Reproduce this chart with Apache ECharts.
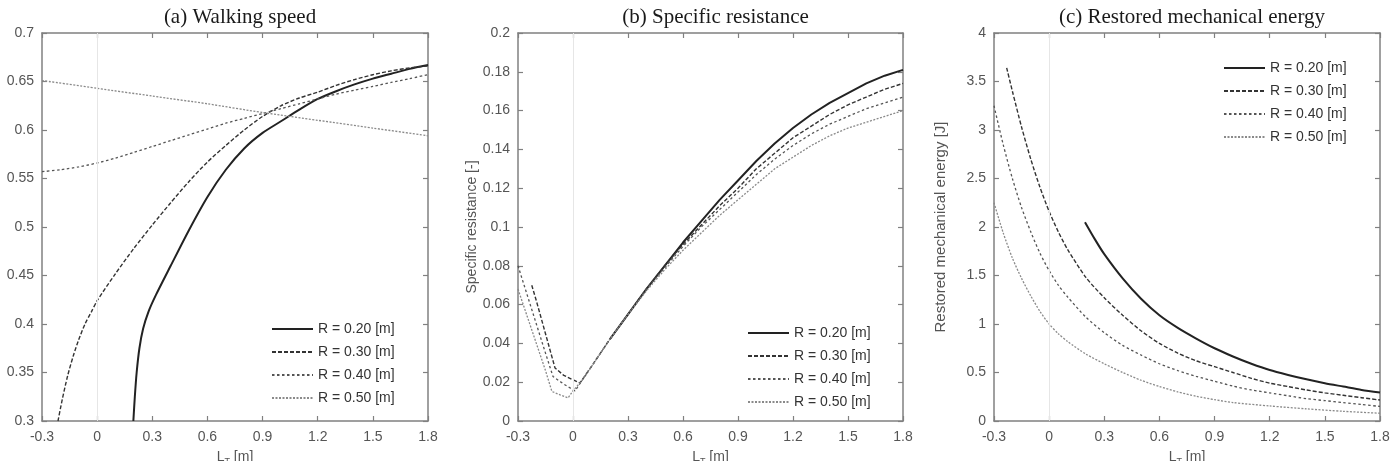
<!DOCTYPE html>
<html>
<head>
<meta charset="utf-8">
<script src="https://cdn.jsdelivr.net/npm/echarts@6/dist/echarts.min.js"></script>
<style>
html,body{margin:0;padding:0;background:#fff;}
#chart{width:1395px;height:461px;}
</style>
</head>
<body>
<div id="chart"></div>
<script>
// ---------- data ----------
const panelTitles = ['(a) Walking speed', '(b) Specific resistance', '(c) Restored mechanical energy'];
const seriesNames = ['R = 0.20 [m]', 'R = 0.30 [m]', 'R = 0.40 [m]', 'R = 0.50 [m]'];
const yAxisNames = ['', 'Specific resistance [-]', 'Restored mechanical energy [J]'];

// (a) walking speed  [L_T, v]
const speedR20 = [[0.197,0.300],[0.205,0.325],[0.215,0.350],[0.23,0.375],[0.25,0.395],[0.28,0.413],[0.32,0.430],[0.4,0.460],[0.5,0.497],[0.6,0.531],[0.7,0.559],[0.8,0.581],[0.9,0.597],[1.0,0.609],[1.1,0.621],[1.2,0.632],[1.3,0.640],[1.4,0.647],[1.5,0.653],[1.6,0.658],[1.7,0.663],[1.8,0.667]];
const speedR30 = [[-0.213,0.300],[-0.19,0.322],[-0.16,0.347],[-0.13,0.367],[-0.1,0.384],[-0.066,0.400],[-0.03,0.413],[0,0.424],[0.1,0.452],[0.2,0.478],[0.3,0.502],[0.4,0.525],[0.5,0.547],[0.6,0.567],[0.7,0.584],[0.8,0.600],[0.9,0.614],[1.0,0.625],[1.1,0.633],[1.2,0.639],[1.3,0.646],[1.4,0.652],[1.5,0.657],[1.6,0.661],[1.7,0.664],[1.8,0.666]];
const speedR40 = [[-0.3,0.557],[-0.2,0.559],[-0.1,0.562],[0,0.566],[0.1,0.571],[0.2,0.577],[0.3,0.583],[0.4,0.589],[0.5,0.595],[0.6,0.601],[0.7,0.607],[0.8,0.612],[0.9,0.617],[1.0,0.622],[1.1,0.627],[1.2,0.632],[1.3,0.637],[1.4,0.641],[1.5,0.645],[1.6,0.649],[1.7,0.653],[1.8,0.657]];
const speedR50 = [[-0.3,0.651],[0,0.643],[0.3,0.635],[0.6,0.627],[0.9,0.618],[1.2,0.610],[1.5,0.602],[1.8,0.594]];

// (b) specific resistance [L_T, value]
const resR20 = [[0.2,0.042],[0.3,0.055],[0.4,0.068],[0.5,0.080],[0.6,0.092],[0.7,0.103],[0.8,0.114],[0.9,0.124],[1.0,0.134],[1.1,0.143],[1.2,0.151],[1.3,0.158],[1.4,0.164],[1.5,0.169],[1.6,0.174],[1.7,0.178],[1.8,0.181]];
const resR30 = [[-0.225,0.070],[-0.2,0.062],[-0.15,0.045],[-0.098,0.0273],[-0.05,0.0235],[0,0.0212],[0.038,0.0196],[0.1,0.028],[0.2,0.042],[0.3,0.055],[0.4,0.068],[0.5,0.080],[0.6,0.091],[0.7,0.101],[0.8,0.111],[0.9,0.120],[1.0,0.130],[1.1,0.138],[1.2,0.146],[1.3,0.152],[1.4,0.158],[1.5,0.163],[1.6,0.167],[1.7,0.171],[1.8,0.174]];
const resR40 = [[-0.3,0.080],[-0.25,0.065],[-0.2,0.050],[-0.15,0.035],[-0.109,0.0229],[-0.05,0.019],[0.011,0.0155],[0.05,0.021],[0.1,0.028],[0.2,0.042],[0.3,0.055],[0.4,0.068],[0.5,0.079],[0.6,0.090],[0.7,0.100],[0.8,0.109],[0.9,0.118],[1.0,0.127],[1.1,0.135],[1.2,0.142],[1.3,0.148],[1.4,0.153],[1.5,0.157],[1.6,0.161],[1.7,0.164],[1.8,0.167]];
const resR50 = [[-0.3,0.068],[-0.25,0.054],[-0.2,0.040],[-0.15,0.026],[-0.115,0.0152],[-0.07,0.0135],[-0.027,0.0119],[0,0.0155],[0.05,0.021],[0.1,0.028],[0.2,0.042],[0.3,0.055],[0.4,0.067],[0.5,0.078],[0.6,0.088],[0.7,0.097],[0.8,0.106],[0.9,0.114],[1.0,0.122],[1.1,0.130],[1.2,0.136],[1.3,0.142],[1.4,0.147],[1.5,0.151],[1.6,0.154],[1.7,0.157],[1.8,0.160]];

// (c) restored mechanical energy [L_T, J]
const energyR20 = [[0.195,2.05],[0.25,1.87],[0.3,1.72],[0.4,1.47],[0.5,1.26],[0.6,1.09],[0.7,0.96],[0.8,0.85],[0.9,0.75],[1.0,0.665],[1.1,0.59],[1.2,0.525],[1.3,0.475],[1.4,0.43],[1.5,0.39],[1.6,0.355],[1.7,0.32],[1.8,0.293]];
const energyR30 = [[-0.231,3.64],[-0.2,3.40],[-0.15,3.03],[-0.1,2.70],[-0.05,2.41],[0,2.16],[0.05,1.95],[0.1,1.77],[0.2,1.48],[0.3,1.27],[0.4,1.09],[0.5,0.93],[0.6,0.80],[0.7,0.70],[0.8,0.62],[0.9,0.56],[1.0,0.50],[1.1,0.44],[1.2,0.39],[1.3,0.355],[1.4,0.32],[1.5,0.29],[1.6,0.265],[1.7,0.24],[1.8,0.216]];
const energyR40 = [[-0.3,3.25],[-0.25,2.85],[-0.2,2.50],[-0.15,2.20],[-0.1,1.95],[-0.05,1.73],[0,1.55],[0.05,1.40],[0.1,1.28],[0.2,1.07],[0.3,0.91],[0.4,0.78],[0.5,0.68],[0.6,0.59],[0.7,0.52],[0.8,0.46],[0.9,0.41],[1.0,0.36],[1.1,0.32],[1.2,0.29],[1.3,0.26],[1.4,0.23],[1.5,0.21],[1.6,0.19],[1.7,0.17],[1.8,0.15]];
const energyR50 = [[-0.3,2.25],[-0.25,1.94],[-0.2,1.68],[-0.15,1.47],[-0.1,1.29],[-0.05,1.13],[0,1.00],[0.05,0.90],[0.1,0.82],[0.2,0.69],[0.3,0.59],[0.4,0.50],[0.5,0.42],[0.6,0.355],[0.7,0.30],[0.8,0.255],[0.9,0.22],[1.0,0.19],[1.2,0.155],[1.4,0.125],[1.6,0.10],[1.8,0.08]];

const xRange = {min: -0.3, max: 1.8, interval: 0.3};
const yRanges = [{min: 0.3, max: 0.7, interval: 0.05}, {min: 0, max: 0.2, interval: 0.02}, {min: 0, max: 4, interval: 0.5}];

// ---------- layout / styles ----------
const grids = [
  {left: 42, top: 33, width: 386, height: 388},
  {left: 518, top: 33, width: 385, height: 388},
  {left: 994, top: 33, width: 386, height: 388}
];
const legendPos = [{left: 266, top: 317}, {left: 742, top: 321}, {left: 1218, top: 56}];
const yNameGap = [0, 17, 46];
const yNameSize = [12, 14, 15];
const panelSmooth = [0.25, false, 0.25];
const lineStyles = [
  {color: '#222', width: 2, type: 'solid'},
  {color: '#333', width: 1.4, type: [4, 2]},
  {color: '#555', width: 1.3, type: [2.5, 2.5]},
  {color: '#8a8a8a', width: 1.3, type: [2, 1.5]}
];
const panelData = [
  [speedR20, speedR30, speedR40, speedR50],
  [resR20, resR30, resR40, resR50],
  [energyR20, energyR30, energyR40, energyR50]
];

const axisColor = '#808080';
const font = 'Liberation Sans, Arial, sans-serif';
const labelStyle = {color: '#555', fontSize: 14, fontFamily: font};

const option = {
  animation: false,
  backgroundColor: '#fff',
  title: [], grid: [], xAxis: [], yAxis: [], legend: [], series: []
};

panelTitles.forEach((t, i) => {
  const g = grids[i];
  option.title.push({
    text: t, left: g.left + g.width / 2, top: 2, textAlign: 'center',
    textStyle: {fontFamily: 'Liberation Serif, Times New Roman, serif', fontSize: 21, fontWeight: 'normal', color: '#1a1a1a'}
  });
  option.grid.push(Object.assign({containLabel: false, outerBoundsMode: 'none'}, g));
  const tickCommon = {inside: true, length: 5, lineStyle: {color: axisColor, width: 1.2}};
  const lineCommon = {onZero: false, lineStyle: {color: axisColor, width: 1.5}};
  // bottom x
  option.xAxis.push({
    type: 'value', gridIndex: i, position: 'bottom', min: xRange.min, max: xRange.max, interval: xRange.interval,
    axisLine: lineCommon, axisTick: tickCommon, splitLine: {show: false},
    axisLabel: Object.assign({margin: 9}, labelStyle),
    name: '{a|L}{b|T} [m]', nameLocation: 'middle', nameGap: 28,
    nameTextStyle: {color: '#555', fontSize: 14, fontFamily: font,
      rich: {a: {fontSize: 14, color: '#555', fontFamily: font}, b: {fontSize: 9, color: '#555', fontFamily: font, padding: [8, 0, 0, 0]}}}
  });
  // top x (mirror ticks)
  option.xAxis.push({
    type: 'value', gridIndex: i, position: 'top', min: xRange.min, max: xRange.max, interval: xRange.interval,
    axisLine: lineCommon, axisTick: tickCommon, axisLabel: {show: false}, splitLine: {show: false}
  });
  const yr = yRanges[i];
  option.yAxis.push({
    type: 'value', gridIndex: i, position: 'left', min: yr.min, max: yr.max, interval: yr.interval,
    axisLine: lineCommon, axisTick: tickCommon, splitLine: {show: false},
    axisLabel: Object.assign({margin: 8}, labelStyle),
    name: yAxisNames[i], nameLocation: 'middle', nameGap: yNameGap[i], nameRotate: 90,
    nameTextStyle: {color: '#555', fontSize: yNameSize[i], fontFamily: font}
  });
  option.yAxis.push({
    type: 'value', gridIndex: i, position: 'right', min: yr.min, max: yr.max, interval: yr.interval,
    axisLine: lineCommon, axisTick: tickCommon, axisLabel: {show: false}, splitLine: {show: false}
  });
  option.legend.push({
    orient: 'vertical', left: legendPos[i].left, top: legendPos[i].top,
    itemWidth: 41, itemHeight: 14, itemGap: 9, align: 'left',
    itemStyle: {color: 'rgba(0,0,0,0)', borderColor: 'rgba(0,0,0,0)', borderWidth: 0},
    textStyle: {color: '#333', fontSize: 14, fontFamily: font},
    data: seriesNames
  });
  seriesNames.forEach((n, k) => {
    const s = {
      type: 'line', name: n, xAxisIndex: i * 2, yAxisIndex: i * 2,
      data: panelData[i][k], symbol: 'none',
      smooth: panelSmooth[i],
      lineStyle: Object.assign({}, lineStyles[k]),
      itemStyle: {color: lineStyles[k].color}
    };
    if (k === 0) {
      s.markLine = {
        silent: true, symbol: ['none', 'none'], label: {show: false},
        lineStyle: {color: '#e6e6e6', width: 1, type: 'solid'},
        data: [{xAxis: 0}]
      };
    }
    option.series.push(s);
  });
});

const chart = echarts.init(document.getElementById('chart'), null, {renderer: 'canvas'});
chart.setOption(option);
</script>
</body>
</html>
